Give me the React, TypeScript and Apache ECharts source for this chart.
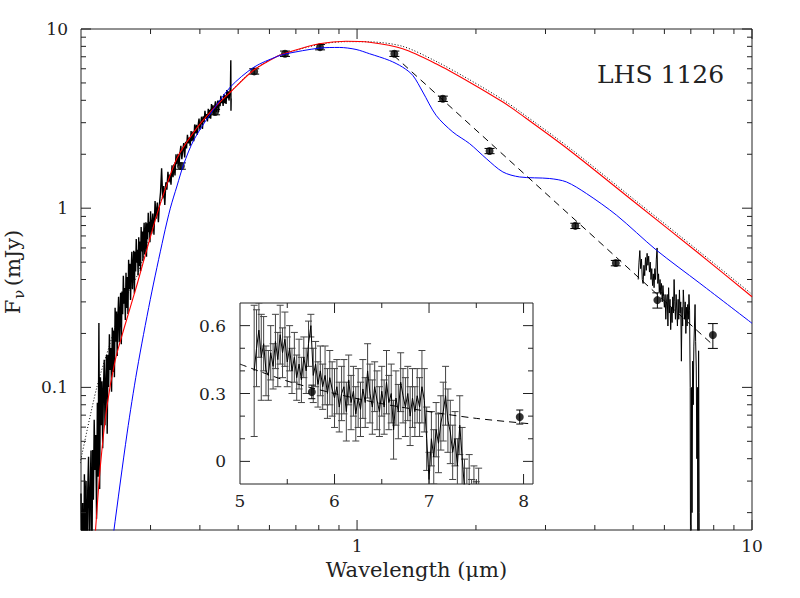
import React, { useEffect, useRef } from 'react';
import * as echarts from 'echarts';

// ---------- tick values ----------
const xMajorTicks = [1, 10];
const xMinorTicks = [0.3, 0.4, 0.5, 0.6, 0.7, 0.8, 0.9, 2, 3, 4, 5, 6, 7, 8, 9];
const yMajorTicks = [0.1, 1, 10];
const yMinorTicks = [0.02, 0.03, 0.04, 0.05, 0.06, 0.07, 0.08, 0.09, 0.2, 0.3, 0.4, 0.5, 0.6, 0.7, 0.8, 0.9, 2, 3, 4, 5, 6, 7, 8, 9];
const insetXMajor = [6, 7, 8];
const insetXMinor = [5.5, 6.5, 7.5];
const insetYMajor = [0, 0.3, 0.6];
const insetYMinor = [0.1, 0.2, 0.4, 0.5];

// ---------- data (wavelength um, flux mJy) ----------
const opticalSpectrum: [number, number][] = [
  [0.200, 0.0256], [0.201, 0.0092], [0.202, 0.0226], [0.203, 0.006], [0.204, 0.0328], [0.205, 0.0152],
  [0.206, 0.030], [0.207, 0.0087], [0.208, 0.0266], [0.209, 0.041], [0.210, 0.0119], [0.211, 0.0272],
  [0.212, 0.0444], [0.213, 0.0072], [0.214, 0.0447], [0.215, 0.0236], [0.216, 0.066], [0.217, 0.0346],
  [0.218, 0.0543], [0.219, 0.0185], [0.220, 0.0822], [0.221, 0.0317], [0.222, 0.229], [0.223, 0.0271],
  [0.224, 0.114], [0.225, 0.0615], [0.226, 0.1082], [0.227, 0.0458], [0.228, 0.1002], [0.229, 0.1427],
  [0.230, 0.0615], [0.231, 0.1052], [0.232, 0.1514], [0.233, 0.0552], [0.234, 0.1519], [0.235, 0.1004],
  [0.236, 0.198], [0.237, 0.1251], [0.238, 0.1656], [0.239, 0.0946], [0.240, 0.2155], [0.241, 0.122],
  [0.242, 0.2075], [0.243, 0.114], [0.244, 0.278], [0.245, 0.1795], [0.246, 0.2652], [0.247, 0.1498],
  [0.248, 0.2472], [0.249, 0.3207], [0.250, 0.1785], [0.251, 0.256], [0.252, 0.3377], [0.253, 0.174],
  [0.254, 0.3425], [0.255, 0.256], [0.256, 0.42], [0.257, 0.2932], [0.258, 0.3588], [0.259, 0.2376],
  [0.260, 0.436], [0.261, 0.2772], [0.262, 0.4124], [0.263, 0.2569], [0.264, 0.516], [0.265, 0.3545],
  [0.266, 0.4892], [0.267, 0.3078], [0.268, 0.4592], [0.269, 0.5717], [0.270, 0.3535], [0.271, 0.465],
  [0.272, 0.5793], [0.273, 0.334], [0.274, 0.5715], [0.275, 0.443], [0.276, 0.672], [0.277, 0.4956],
  [0.278, 0.5854], [0.279, 0.4218], [0.280, 0.688], [0.281, 0.4752], [0.282, 0.6524], [0.283, 0.4469],
  [0.284, 0.784], [0.285, 0.5725], [0.286, 0.7416], [0.287, 0.5054], [0.288, 0.6936], [0.289, 0.8301],
  [0.290, 0.554], [0.291, 0.693], [0.292, 0.8334], [0.293, 0.536], [0.294, 0.824], [0.295, 0.671],
  [0.296, 0.944], [0.297, 0.7336], [0.298, 0.8404], [0.299, 0.6458], [0.300, 0.962],
  [0.302, 0.72], [0.304, 0.934], [0.306, 0.711], [0.308, 1.096], [0.310, 0.873], [0.312, 1.075],
  [0.314, 0.835], [0.316, 1.059], [0.318, 1.228], [0.320, 1.67], [0.322, 1.134], [0.324, 1.328],
  [0.326, 1.042], [0.328, 1.396], [0.330, 1.27], [0.332, 1.596], [0.334, 1.395], [0.336, 1.542],
  [0.338, 1.352], [0.340, 1.737], [0.342, 1.487], [0.344, 1.757], [0.346, 1.522], [0.348, 1.996],
  [0.350, 1.758], [0.352, 2.008], [0.354, 1.727], [0.356, 2.008], [0.358, 2.226], [0.360, 1.875],
  [0.362, 2.092], [0.364, 2.312], [0.366, 1.92], [0.368, 2.347], [0.370, 2.156], [0.372, 2.566],
  [0.374, 2.298], [0.376, 2.474], [0.378, 2.229], [0.380, 2.697], [0.382, 2.367], [0.384, 2.679],
  [0.386, 2.367], [0.388, 2.934], [0.390, 2.616], [0.392, 2.92], [0.394, 2.57], [0.396, 2.908],
  [0.398, 3.166], [0.400, 2.74], [0.402, 2.99], [0.404, 3.24], [0.406, 2.77], [0.408, 3.26],
  [0.410, 3.03], [0.412, 3.49], [0.414, 3.163], [0.416, 3.354], [0.418, 3.048], [0.420, 3.587],
  [0.422, 3.183], [0.424, 3.539], [0.426, 3.16], [0.428, 3.81], [0.430, 3.428], [0.432, 3.753],
  [0.434, 3.326], [0.436, 3.687], [0.438, 3.953], [0.440, 3.45], [0.442, 3.718], [0.444, 3.99],
  [0.446, 3.44], [0.448, 3.99], [0.450, 3.71], [0.452, 4.24], [0.454, 3.855], [0.456, 4.071],
  [0.458, 3.716], [0.460, 4.328], [0.462, 3.859], [0.464, 4.26], [0.466, 3.819], [0.468, 4.56],
  [0.470, 4.113], [0.472, 4.488], [0.474, 3.987], [0.476, 4.408], [0.478, 4.72], [0.479, 6.70],
  [0.4795, 3.5], [0.480, 4.1],
];

const photosphereModel: [number, number][] = [
  [0.2125, 0.008], [0.2174, 0.0154], [0.2238, 0.036], [0.2326, 0.078], [0.2442, 0.142],
  [0.2589, 0.225], [0.2773, 0.375], [0.2968, 0.64], [0.3177, 1.06], [0.350, 1.90], [0.386, 2.66],
  [0.425, 3.44], [0.478, 4.45], [0.548, 5.9], [0.628, 7.05], [0.661, 7.35], [0.802, 8.27],
  [0.938, 8.55], [1.075, 8.44], [1.305, 7.76], [1.585, 6.40], [1.927, 5.05], [2.34, 3.91],
  [2.58, 3.37], [3.455, 2.10], [5.0, 1.097], [7.38, 0.553], [10, 0.3206],
];

const blackbody: [number, number][] = [
  [0.199, 0.0378], [0.2195, 0.101], [0.237, 0.176], [0.2515, 0.27], [0.2617, 0.33], [0.2773, 0.42],
  [0.2968, 0.66], [0.3177, 1.07], [0.350, 1.91], [0.386, 2.67], [0.425, 3.45], [0.478, 4.47],
  [0.548, 5.93], [0.628, 7.05], [0.661, 7.33], [0.802, 8.20], [0.938, 8.50], [1.075, 8.48],
  [1.305, 8.00], [1.585, 6.60], [1.927, 5.21], [2.34, 4.03], [2.58, 3.47], [3.455, 2.165],
  [5.0, 1.131], [7.38, 0.570], [10, 0.331],
];

const dustyModel: [number, number][] = [
  [0.2385, 0.012], [0.2418, 0.0154], [0.2617, 0.0556], [0.2773, 0.125], [0.2996, 0.31], [0.324, 0.70],
  [0.3367, 1.0], [0.350, 1.33], [0.364, 1.76], [0.386, 2.40], [0.425, 3.35], [0.478, 4.75],
  [0.548, 6.12], [0.628, 7.03], [0.661, 7.27], [0.802, 7.82], [0.902, 7.89], [0.994, 7.69],
  [1.075, 7.28], [1.207, 6.68], [1.305, 6.12], [1.384, 5.51], [1.467, 4.45], [1.585, 3.30],
  [1.748, 2.66], [1.927, 2.293], [2.124, 1.892], [2.34, 1.593], [2.58, 1.494], [3.074, 1.464],
  [3.39, 1.401], [3.81, 1.207], [4.54, 0.914], [5.73, 0.583], [7.38, 0.381], [10, 0.228],
];

const rjLine: [number, number][] = [[1.24, 7.1], [8.0, 0.171]];

// [wavelength, flux, error]
const photometry: [number, number, number][] = [
  [0.358, 1.72, 0.07], [0.437, 3.44, 0.12], [0.549, 5.8, 0.2], [0.657, 7.28, 0.25],
  [0.806, 7.92, 0.27], [1.243, 7.28, 0.25], [1.649, 4.08, 0.14], [2.165, 2.085, 0.07],
  [3.57, 0.797, 0.027], [4.52, 0.494, 0.017], [5.76, 0.307, 0.03], [7.96, 0.196, 0.031],
];

// IRS spectrum [wavelength, flux, error]
const irsSpectrum: [number, number, number][] = [
  [5.150, 0.40, 0.29], [5.175, 0.50, 0.17], [5.200, 0.58, 0.12], [5.225, 0.46, 0.19], [5.250, 0.52, 0.12],
  [5.275, 0.40, 0.11], [5.300, 0.38, 0.11], [5.325, 0.48, 0.12], [5.350, 0.42, 0.10], [5.375, 0.53, 0.12],
  [5.400, 0.45, 0.12], [5.425, 0.56, 0.13], [5.450, 0.48, 0.11], [5.475, 0.54, 0.12], [5.500, 0.44, 0.11],
  [5.525, 0.50, 0.10], [5.550, 0.40, 0.10], [5.575, 0.46, 0.11], [5.600, 0.37, 0.10], [5.625, 0.43, 0.11],
  [5.650, 0.36, 0.10], [5.675, 0.46, 0.09], [5.700, 0.40, 0.10], [5.725, 0.52, 0.10], [5.750, 0.60, 0.05],
  [5.775, 0.38, 0.12], [5.800, 0.43, 0.10], [5.825, 0.34, 0.10], [5.850, 0.40, 0.11], [5.875, 0.33, 0.10],
  [5.900, 0.38, 0.13], [5.925, 0.30, 0.11], [5.950, 0.37, 0.12], [5.975, 0.32, 0.12], [6.000, 0.28, 0.13],
  [6.025, 0.33, 0.12], [6.050, 0.24, 0.11], [6.075, 0.30, 0.12], [6.100, 0.33, 0.12], [6.125, 0.22, 0.13],
  [6.150, 0.36, 0.11], [6.175, 0.26, 0.12], [6.200, 0.31, 0.11], [6.225, 0.21, 0.12], [6.250, 0.28, 0.13],
  [6.275, 0.23, 0.12], [6.300, 0.32, 0.13], [6.325, 0.26, 0.11], [6.350, 0.40, 0.12], [6.375, 0.30, 0.13],
  [6.400, 0.24, 0.12], [6.425, 0.33, 0.11], [6.450, 0.27, 0.13], [6.475, 0.22, 0.11], [6.500, 0.31, 0.11],
  [6.525, 0.24, 0.12], [6.550, 0.35, 0.14], [6.575, 0.26, 0.12], [6.600, 0.30, 0.13], [6.625, 0.14, 0.13],
  [6.650, 0.28, 0.12], [6.675, 0.22, 0.12], [6.700, 0.35, 0.13], [6.725, 0.29, 0.12], [6.750, 0.24, 0.13],
  [6.775, 0.30, 0.12], [6.800, 0.20, 0.13], [6.825, 0.28, 0.13], [6.850, 0.22, 0.11], [6.875, 0.29, 0.12],
  [6.900, 0.24, 0.13], [6.925, 0.33, 0.16], [6.950, 0.27, 0.14], [6.975, 0.10, 0.14], [7.000, -0.08, 0.12],
  [7.025, 0.10, 0.12], [7.050, 0.02, 0.12], [7.075, 0.14, 0.12], [7.100, 0.08, 0.13], [7.125, 0.17, 0.12],
  [7.150, 0.22, 0.13], [7.175, 0.29, 0.13], [7.200, 0.18, 0.14], [7.225, 0.13, 0.14], [7.250, 0.04, 0.12],
  [7.275, 0.10, 0.12], [7.300, -0.02, 0.12], [7.325, 0.16, 0.13], [7.350, 0.02, 0.13], [7.375, -0.12, 0.13],
  [7.400, -0.16, 0.13], [7.425, -0.10, 0.13], [7.450, -0.20, 0.12], [7.475, -0.18, 0.16], [7.500, -0.25, 0.16],
  [7.525, -0.16, 0.13], [7.550, -0.26, 0.14],
];

const insetRj: [number, number][] = [
  [5.0, 0.43], [5.5, 0.355], [6.0, 0.30], [6.5, 0.255], [7.0, 0.22], [7.5, 0.19], [8.1, 0.165],
];

const SERIF = 'DejaVu Serif';
const AX = '#222';

function tickData(xMaj: number[], xMin: number[], yMaj: number[], yMin: number[], xRef: number, yRef: number, majLen: number, minLen: number) {
  const d: number[][] = [];
  xMaj.forEach(v => d.push([v, yRef, 0, majLen]));
  xMin.forEach(v => d.push([v, yRef, 0, minLen]));
  yMaj.forEach(v => d.push([xRef, v, 1, majLen]));
  yMin.forEach(v => d.push([xRef, v, 1, minLen]));
  return d;
}

const tickRender = (params: any, api: any) => {
  const cs = params.coordSys;
  const kind = api.value(2);
  const len = api.value(3);
  const p = api.coord([api.value(0), api.value(1)]);
  const style = { stroke: AX, lineWidth: 1 };
  if (kind === 0) {
    const x = p[0];
    return {
      type: 'group', children: [
        { type: 'line', shape: { x1: x, y1: cs.y + cs.height, x2: x, y2: cs.y + cs.height - len }, style },
        { type: 'line', shape: { x1: x, y1: cs.y, x2: x, y2: cs.y + len }, style },
      ],
    };
  }
  const y = p[1];
  return {
    type: 'group', children: [
      { type: 'line', shape: { x1: cs.x, y1: y, x2: cs.x + len, y2: y }, style },
      { type: 'line', shape: { x1: cs.x + cs.width, y1: y, x2: cs.x + cs.width - len, y2: y }, style },
    ],
  };
};

const errRender = (capW: number, color: string) => (params: any, api: any) => {
  const x = api.value(0), y = api.value(1), e = api.value(2);
  const top = api.coord([x, y + e]);
  const bot = api.coord([x, y - e]);
  const style = { stroke: color, lineWidth: 1 };
  return {
    type: 'group', children: [
      { type: 'line', shape: { x1: top[0], y1: top[1], x2: bot[0], y2: bot[1] }, style },
      { type: 'line', shape: { x1: top[0] - capW, y1: top[1], x2: top[0] + capW, y2: top[1] }, style },
      { type: 'line', shape: { x1: bot[0] - capW, y1: bot[1], x2: bot[0] + capW, y2: bot[1] }, style },
    ],
  };
};

const logLabel = (v: number) => {
  const l = Math.log10(v);
  const r = Math.round(l);
  if (Math.abs(l - r) > 1e-6) return '';
  return r >= 0 ? String(Math.pow(10, r)) : Math.pow(10, r).toFixed(-r);
};

export default function App() {
  const ref = useRef<HTMLDivElement>(null);
  useEffect(() => {
    if (!ref.current) return;
    const chart = echarts.init(ref.current, null, { renderer: 'svg' });
    const mainIrs = irsSpectrum.map(d => [d[0], d[1] > 0 ? d[1] : 0.001]);
    const insetPhot = photometry.filter(p => p[0] >= 5 && p[0] <= 8.1);
    const option: any = {
      animation: false,
      backgroundColor: '#fff',
      textStyle: { fontFamily: SERIF },
      title: {
        text: 'LHS 1126', left: 592, top: 57,
        textStyle: { fontFamily: SERIF, fontSize: 25, fontWeight: 'normal', color: '#222' },
      },
      graphic: [
        {
          type: 'text', x: 13, y: 272, rotation: Math.PI / 2,
          style: {
            text: '{f|F}{s|\u03bd} {f|(mJy)}', align: 'center', verticalAlign: 'middle', fill: AX,
            rich: {
              f: { fontFamily: SERIF, fontSize: 21, fill: AX },
              s: { fontFamily: SERIF, fontSize: 15, fill: AX, padding: [11, 0, 0, 1] },
            },
          },
        },
      ],
      grid: [
        { left: 81, top: 29, width: 671, height: 501, show: true, borderColor: AX, borderWidth: 1, backgroundColor: 'transparent', outerBoundsMode: 'none', containLabel: false },
        { left: 240, top: 303, width: 293, height: 181, show: true, borderColor: AX, borderWidth: 1, backgroundColor: '#fff', outerBoundsMode: 'none', containLabel: false },
      ],
      xAxis: [
        {
          gridIndex: 0, type: 'log', logBase: 10, min: 0.2, max: 10,
          axisLine: { show: false }, axisTick: { show: false }, splitLine: { show: false },
          axisLabel: { formatter: logLabel, fontFamily: SERIF, fontSize: 17, color: AX, margin: 7, showMinLabel: true, showMaxLabel: true },
          name: 'Wavelength (\u03bcm)', nameLocation: 'middle', nameGap: 29,
          nameTextStyle: { fontFamily: SERIF, fontSize: 21, color: AX },
        },
        {
          gridIndex: 1, type: 'value', min: 5, max: 8.1, interval: 1,
          axisLine: { show: false }, axisTick: { show: false }, splitLine: { show: false },
          axisLabel: {
            formatter: (v: number) => (Math.abs(v - Math.round(v)) < 1e-6 ? String(Math.round(v)) : ''),
            fontFamily: SERIF, fontSize: 17, color: AX, margin: 8,
          },
        },
      ],
      yAxis: [
        {
          gridIndex: 0, type: 'log', logBase: 10, min: 0.016, max: 10,
          axisLine: { show: false }, axisTick: { show: false }, splitLine: { show: false },
          axisLabel: { formatter: logLabel, fontFamily: SERIF, fontSize: 17, color: AX, margin: 13 },
        },
        {
          gridIndex: 1, type: 'value', min: -0.1, max: 0.7, interval: 0.1,
          axisLine: { show: false }, axisTick: { show: false }, splitLine: { show: false },
          axisLabel: {
            formatter: (v: number) => {
              const k = Math.round(v * 10);
              if (k === 0) return '0';
              return k === 3 || k === 6 ? (k / 10).toFixed(1) : '';
            },
            fontFamily: SERIF, fontSize: 17, color: AX, margin: 14,
          },
        },
      ],
      series: [
        {
          type: 'custom', xAxisIndex: 0, yAxisIndex: 0, silent: true, encode: { x: 0, y: 1 },
          data: tickData(xMajorTicks, xMinorTicks, yMajorTicks, yMinorTicks, 1, 1, 10, 5),
          renderItem: tickRender, z: 5,
        },
        {
          type: 'line', xAxisIndex: 0, yAxisIndex: 0, data: opticalSpectrum, showSymbol: false, silent: true,
          lineStyle: { color: '#000', width: 1.4 }, clip: true,
        },
        {
          type: 'line', xAxisIndex: 0, yAxisIndex: 0, data: mainIrs, showSymbol: false, silent: true,
          lineStyle: { color: '#000', width: 1 }, clip: true,
        },
        {
          type: 'line', xAxisIndex: 0, yAxisIndex: 0, data: blackbody, showSymbol: false, silent: true,
          smooth: 0.3, lineStyle: { color: '#000', width: 1, type: [1, 2] }, clip: true,
        },
        {
          type: 'line', xAxisIndex: 0, yAxisIndex: 0, data: photosphereModel, showSymbol: false, silent: true,
          smooth: 0.3, lineStyle: { color: '#ff0000', width: 1.1 }, clip: true,
        },
        {
          type: 'line', xAxisIndex: 0, yAxisIndex: 0, data: dustyModel, showSymbol: false, silent: true,
          smooth: 0.3, lineStyle: { color: '#0000ff', width: 1 }, clip: true,
        },
        {
          type: 'line', xAxisIndex: 0, yAxisIndex: 0, data: rjLine, showSymbol: false, silent: true,
          lineStyle: { color: '#000', width: 1, type: [7, 5] }, clip: true,
        },
        {
          type: 'custom', xAxisIndex: 0, yAxisIndex: 0, silent: true, encode: { x: 0, y: 1 },
          data: photometry, renderItem: errRender(5, '#000'), clip: true,
        },
        {
          type: 'scatter', xAxisIndex: 0, yAxisIndex: 0, silent: true, symbolSize: 8,
          data: photometry.map(p => [p[0], p[1]]), itemStyle: { color: '#000' },
        },
        // inset
        {
          type: 'custom', xAxisIndex: 1, yAxisIndex: 1, silent: true, encode: { x: 0, y: 1 },
          data: tickData(insetXMajor, insetXMinor, insetYMajor, insetYMinor, 6, 0.3, 10, 5),
          renderItem: tickRender, z: 5,
        },
        {
          type: 'custom', xAxisIndex: 1, yAxisIndex: 1, silent: true, encode: { x: 0, y: 1 },
          data: irsSpectrum, renderItem: errRender(3.5, '#444'), clip: true,
        },
        {
          type: 'line', xAxisIndex: 1, yAxisIndex: 1, data: irsSpectrum.map(d => [d[0], d[1]]), showSymbol: false,
          silent: true, lineStyle: { color: '#000', width: 1 }, clip: true,
        },
        {
          type: 'line', xAxisIndex: 1, yAxisIndex: 1, data: insetRj, showSymbol: false, silent: true, smooth: 0.3,
          lineStyle: { color: '#000', width: 1, type: [7, 5] }, clip: true,
        },
        {
          type: 'custom', xAxisIndex: 1, yAxisIndex: 1, silent: true, encode: { x: 0, y: 1 },
          data: insetPhot, renderItem: errRender(3.5, '#000'), clip: true,
        },
        {
          type: 'scatter', xAxisIndex: 1, yAxisIndex: 1, silent: true, symbolSize: 8,
          data: insetPhot.map(p => [p[0], p[1]]), itemStyle: { color: '#000' },
        },
      ],
    };
    chart.setOption(option);
    return () => chart.dispose();
  }, []);
  return <div ref={ref} style={{ position: 'fixed', left: 0, top: 0, width: 800, height: 598 }} />;
}
